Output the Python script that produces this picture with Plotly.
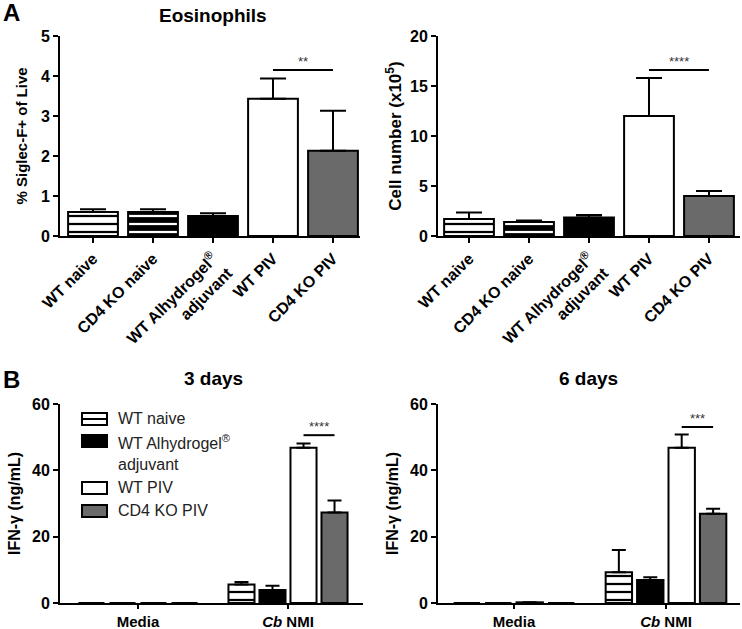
import plotly.graph_objects as go

W, H = 742, 629
FONT = "Arial, Liberation Sans, sans-serif"

# ---------------- data ----------------
groups_top = ["WT naive", "CD4 KO naive", "WT Alhydrogel<sup>®</sup><br>adjuvant", "WT PIV", "CD4 KO PIV"]
pct_siglec = [0.60, 0.60, 0.50, 3.43, 2.13]
pct_siglec_err = [0.07, 0.07, 0.07, 0.51, 1.00]
cell_number = [1.70, 1.40, 1.85, 12.0, 4.0]
cell_number_err = [0.65, 0.15, 0.25, 3.8, 0.5]

stim = ["Media", "Cb NMI"]
stim_labels = ["Media", "<i>Cb</i> NMI"]
series = ["WT naive", "WT Alhydrogel<sup>®</sup><br>adjuvant", "WT PIV", "CD4 KO PIV"]
ifn_3d = {"WT naive": [0, 5.6], "WT Alhydrogel<sup>®</sup><br>adjuvant": [0, 3.9],
          "WT PIV": [0, 46.8], "CD4 KO PIV": [0, 27.3]}
ifn_3d_err = {"WT naive": [None, 0.7], "WT Alhydrogel<sup>®</sup><br>adjuvant": [None, 1.3],
              "WT PIV": [None, 1.3], "CD4 KO PIV": [None, 3.6]}
ifn_6d = {"WT naive": [0, 9.3], "WT Alhydrogel<sup>®</sup><br>adjuvant": [0, 6.9],
          "WT PIV": [0.2, 46.8], "CD4 KO PIV": [0, 26.9]}
ifn_6d_err = {"WT naive": [None, 6.7], "WT Alhydrogel<sup>®</sup><br>adjuvant": [None, 0.9],
              "WT PIV": [None, 4.0], "CD4 KO PIV": [None, 1.5]}

sig_top = [("**", 4.15), ("****", 16.6)]
sig_bottom = [("****", 50.6), ("***", 53.1)]

# ---------------- styles ----------------
GRAY = "#6a6a6a"
top_style = [
    dict(color="white", shape="-", fg="black", bg="white"),
    dict(color="black", shape="-", fg="white", bg="black"),
    dict(color="black", shape="", fg="black", bg="black"),
    dict(color="white", shape="", fg="white", bg="white"),
    dict(color=GRAY, shape="", fg=GRAY, bg=GRAY),
]

ser_style = {
    "WT naive": dict(color="white", shape="-", fg="black", bg="white"),
    "WT Alhydrogel<sup>®</sup><br>adjuvant": dict(color="black", shape="", fg="black", bg="black"),
    "WT PIV": dict(color="white", shape="", fg="white", bg="white"),
    "CD4 KO PIV": dict(color=GRAY, shape="", fg=GRAY, bg=GRAY),
}

def px(x):
    return x / W

def py(y):
    return 1 - y / H

def marker_for(st):
    m = dict(color=st["color"], line=dict(color="black", width=2))
    if st["shape"]:
        m["pattern"] = dict(shape=st["shape"], fgcolor=st["fg"], bgcolor=st["bg"],
                            size=8, solidity=0.28, fillmode="replace")
    return m

fig = go.Figure()

# top panels: one trace per bar, same offsetgroup so no group offset
for vals, errs, xa, ya in [(pct_siglec, pct_siglec_err, "x", "y"),
                           (cell_number, cell_number_err, "x2", "y2")]:
    for g, v, e, st in zip(groups_top, vals, errs, top_style):
        fig.add_trace(go.Bar(
            x=[g], y=[v], width=0.83, xaxis=xa, yaxis=ya, showlegend=False,
            offsetgroup="top" + xa,
            marker=marker_for(st),
            error_y=dict(type="data", array=[e], arrayminus=[0], symmetric=False,
                         color="black", thickness=2, width=13),
        ))

# bottom panels (grouped)
for data, errd, xa, ya in [(ifn_3d, ifn_3d_err, "x3", "y3"), (ifn_6d, ifn_6d_err, "x4", "y4")]:
    for s in series:
        st = ser_style[s]
        fig.add_trace(go.Bar(
            x=stim, y=data[s], name=s, xaxis=xa, yaxis=ya, showlegend=False,
            marker=marker_for(st),
            error_y=dict(type="data", array=errd[s], arrayminus=[0, 0], symmetric=False,
                         color="black", thickness=2, width=7),
        ))

BARGAP = 0.173
fig.update_layout(barmode="group", bargap=BARGAP, bargroupgap=0.16)

axis_common = dict(showline=True, linecolor="black", linewidth=2, ticks="outside",
                   ticklen=5, tickwidth=2, tickcolor="black", showgrid=False, zeroline=False,
                   automargin=False,
                   tickfont=dict(family=FONT, size=16, color="black", weight="bold"))
axis_bottom_x = dict(axis_common)
axis_bottom_x["ticklen"] = 4
axis_bottom_x["tickfont"] = dict(family=FONT, size=15, color="black", weight="bold")

top_dom = [py(236), py(36)]
bot_dom = [py(603), py(404)]

fig.update_layout(
    width=W, height=H, margin=dict(l=0, r=0, t=0, b=0),
    paper_bgcolor="white", plot_bgcolor="white",
    font=dict(family=FONT, color="black"),
    xaxis=dict(domain=[px(60), px(360)], range=[-0.55, 4.45], tickangle=-45, anchor="y", **axis_common),
    yaxis=dict(domain=top_dom, range=[0, 5], dtick=1, anchor="x",
               title=dict(text="% Siglec-F+ of Live", standoff=10,
                          font=dict(family=FONT, size=15, weight="bold")), **axis_common),
    xaxis2=dict(domain=[px(438), px(740)], range=[-0.517, 4.517], tickangle=-45, anchor="y2", **axis_common),
    yaxis2=dict(domain=top_dom, range=[0, 20], dtick=5, anchor="x2",
                title=dict(text="Cell number (x10<sup>5</sup>)", standoff=4,
                           font=dict(family=FONT, size=17, weight="bold")), **axis_common),
    xaxis3=dict(domain=[px(60), px(363)], range=[-0.52, 1.5], anchor="y3",
                tickvals=stim, ticktext=stim_labels, **axis_bottom_x),
    yaxis3=dict(domain=bot_dom, range=[0, 60], dtick=20, anchor="x3",
                title=dict(text="IFN-γ (ng/mL)", standoff=7,
                           font=dict(family=FONT, size=16, weight="bold")), **axis_common),
    xaxis4=dict(domain=[px(438), px(740)], range=[-0.5, 1.487], anchor="y4",
                tickvals=stim, ticktext=stim_labels, **axis_bottom_x),
    yaxis4=dict(domain=bot_dom, range=[0, 60], dtick=20, anchor="x4",
                title=dict(text="IFN-γ (ng/mL)", standoff=7,
                           font=dict(family=FONT, size=16, weight="bold")), **axis_common),
)

shapes = []
annotations = []

# significance: top panels between WT PIV and CD4 KO PIV
for (txt, yv), xa, ya in zip(sig_top, ["x", "x2"], ["y", "y2"]):
    i0 = groups_top.index("WT PIV")
    i1 = groups_top.index("CD4 KO PIV")
    shapes.append(dict(type="line", xref=xa, yref=ya, x0=i0, x1=i1, y0=yv, y1=yv,
                       line=dict(color="black", width=2)))
    annotations.append(dict(xref=xa, yref=ya, x=(i0 + i1) / 2, y=yv, text=txt, showarrow=False,
                            yanchor="bottom", yshift=-1, font=dict(family=FONT, size=13, color="#333")))

# significance: bottom panels, between WT PIV and CD4 KO PIV bars of Cb NMI group
slot = (1 - BARGAP) / len(series)
gi = stim.index("Cb NMI")
for (txt, yv), xa, ya in zip(sig_bottom, ["x3", "x4"], ["y3", "y4"]):
    j0 = series.index("WT PIV")
    j1 = series.index("CD4 KO PIV")
    c0 = gi + (j0 - (len(series) - 1) / 2) * slot
    c1 = gi + (j1 - (len(series) - 1) / 2) * slot
    shapes.append(dict(type="line", xref=xa, yref=ya, x0=c0, x1=c1, y0=yv, y1=yv,
                       line=dict(color="black", width=2)))
    annotations.append(dict(xref=xa, yref=ya, x=(c0 + c1) / 2, y=yv, text=txt, showarrow=False,
                            yanchor="bottom", yshift=-1, font=dict(family=FONT, size=13, color="#333")))

# panel letters and titles
for txt, x, y, size in [("A", 11, 12, 24), ("B", 11, 379, 24),
                        ("Eosinophils", 213, 15, 19), ("3 days", 213, 378, 19), ("6 days", 588, 378, 19)]:
    annotations.append(dict(xref="paper", yref="paper", x=px(x), y=py(y), text=txt, showarrow=False,
                            xanchor="center", yanchor="middle",
                            font=dict(family=FONT, size=size, color="black", weight="bold")))

# manual legend (bottom-left panel)
leg_rows = [419, 441, 488, 511]
for s, yc in zip(series, leg_rows):
    st = ser_style[s]
    shapes.append(dict(type="rect", xref="paper", yref="paper", x0=px(82), x1=px(107),
                       y0=py(yc + 6), y1=py(yc - 6), fillcolor=st["color"],
                       line=dict(color="black", width=2)))
    if st["shape"] == "-":
        shapes.append(dict(type="line", xref="paper", yref="paper", x0=px(82), x1=px(107),
                           y0=py(yc), y1=py(yc), line=dict(color="black", width=2)))
    annotations.append(dict(xref="paper", yref="paper", x=px(116), y=py(yc - 11), text=s,
                            showarrow=False, xanchor="left", yanchor="top", align="left",
                            font=dict(family=FONT, size=16, color="#222")))

fig.update_layout(shapes=shapes, annotations=annotations)
fig.write_html("out.html", config={"displayModeBar": False},
               post_script="document.body.style.margin='0';document.body.style.overflow='hidden';")
